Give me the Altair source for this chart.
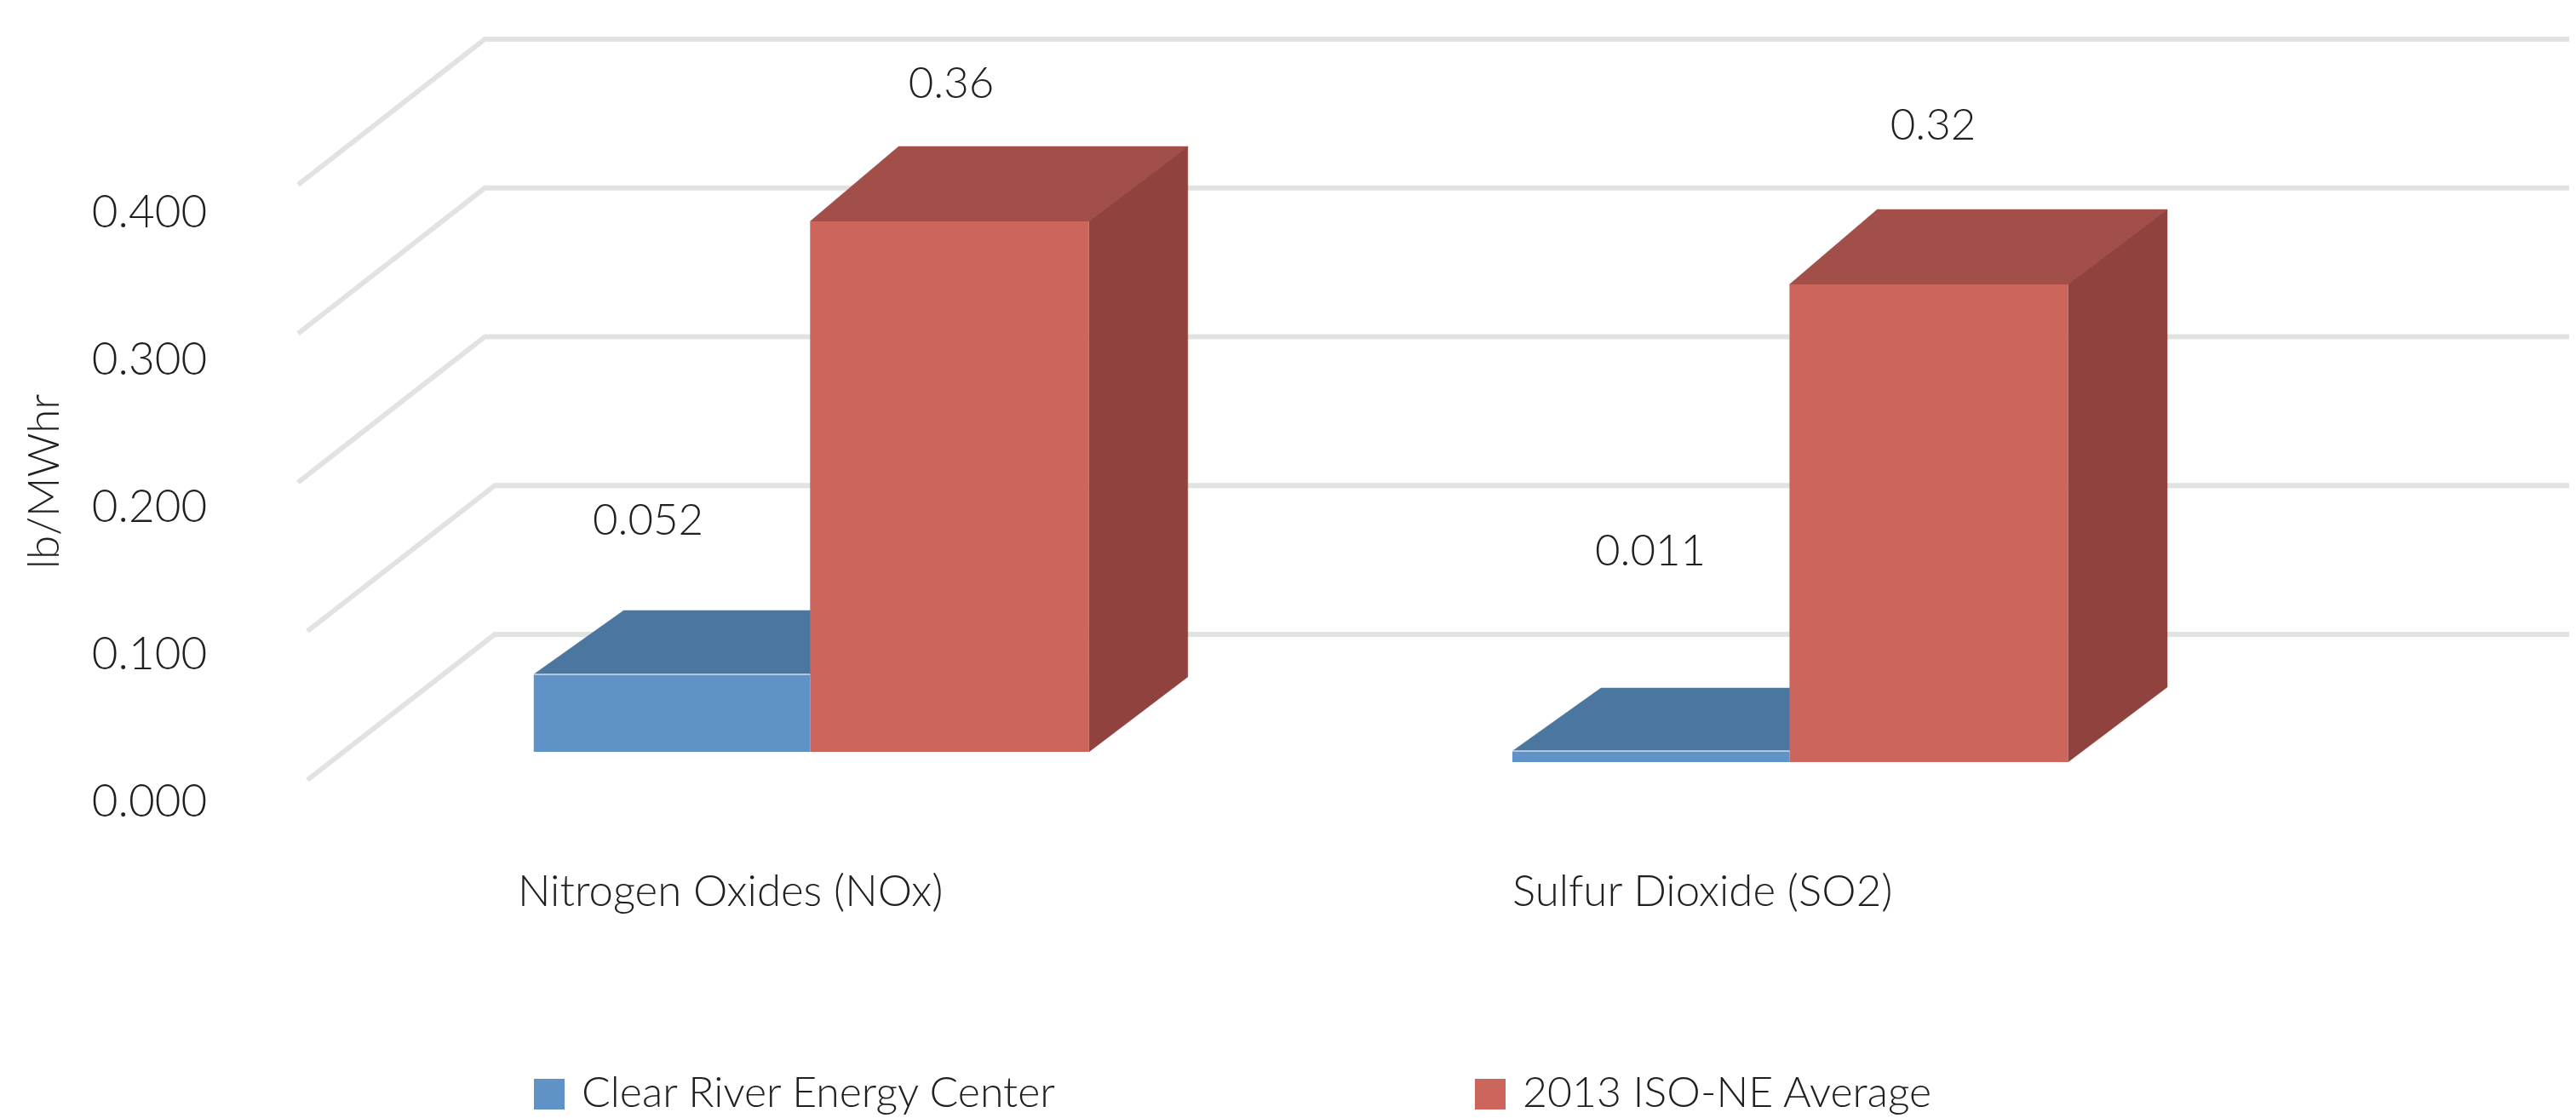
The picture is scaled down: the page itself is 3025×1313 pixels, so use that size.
import altair as alt
import pandas as pd

# ---- data ----
categories = ["Nitrogen Oxides (NOx)", "Sulfur Dioxide (SO2)"]
series_names = ["Clear River Energy Center", "2013 ISO-NE Average"]
clear_river = [0.0521, 0.0074]
iso_ne = [0.3565, 0.321]
clear_river_labels = ["0.052", "0.011"]
iso_ne_labels = ["0.36", "0.32"]
y_ticks = [0.0, 0.1, 0.2, 0.3, 0.4]

# ---- pseudo-3D geometry (x in chart units, y in value units) ----
PX = 1747.5  # chart units per 1.0 of value
group_base = [33 / PX, 21 / PX]
bar_x = {
    0: [(626.8, 951.3), (1776.0, 2101.4)],
    1: [(951.3, 1278.8), (2101.4, 2428.4)],
}
bar_dx_left = {0: [105.6, 104.0], 1: [104.0, 103.0]}
bar_dx_right = {0: [105.6, 104.0], 1: [116.0, 116.6]}
bar_dy = {0: [75 / PX, 74 / PX], 1: [88 / PX, 88 / PX]}
label_x = {0: [761, 1938], 1: [1117, 2270]}
label_lift = {0: [179 / PX, 233 / PX], 1: [160 / PX, 185 / PX]}
cat_x = [608, 1776]
cat_y = -133 / PX
grid_front_x = [361, 361, 350, 350, 350]
grid_back_x = [581, 581, 569.4, 569.4, 569.4]
grid_lift = 171 / PX
X_MIN, X_MAX = 350, 3017
Y_TOP = (916 - 8) / PX
Y_BOTTOM = (916 - 1313) / PX

BLUE, RED = "#5F93C8", "#CC655C"
BLUE_TOP, RED_TOP = "#4B76A0", "#A24E49"
RED_SIDE = "#8F423E"
GRID = "#E1E3E1"
INK = "#231F20"
FONT = "Lato"
SIZE = 51

values = [clear_river, iso_ne]
labels = [clear_river_labels, iso_ne_labels]

grid_rows, blue_top_rows, red_top_rows, side_rows = [], [], [], []
front_rows, label_rows, edge_rows = [], [], []
for i, t in enumerate(y_ticks):
    grid_rows += [
        {"tick": i, "n": 0, "x": grid_front_x[i], "y": t},
        {"tick": i, "n": 1, "x": grid_back_x[i], "y": t + grid_lift},
        {"tick": i, "n": 2, "x": X_MAX, "y": t + grid_lift},
    ]

for s in (0, 1):
    for g in (0, 1):
        x0, x1 = bar_x[s][g]
        dxl, dxr, dy = bar_dx_left[s][g], bar_dx_right[s][g], bar_dy[s][g]
        b = group_base[g]
        t = b + values[s][g]
        target = blue_top_rows if s == 0 else red_top_rows
        for n, (xx, yy) in enumerate(
            [(x0, t), (x0 + dxl, t + dy), (x1 + dxr, t + dy), (x1, t)]
        ):
            target.append({"face": g, "n": n, "x": xx, "y": yy})
        if s == 1:
            for n, (xx, yy) in enumerate(
                [(x1, t), (x1 + dxr, t + dy), (x1 + dxr, b + dy), (x1, b)]
            ):
                side_rows.append({"face": g, "n": n, "x": xx, "y": yy})
        front_rows.append(
            {"series": series_names[s], "x": x0, "x2": x1, "y": t, "y2": b}
        )
        if s == 0:
            edge_rows.append({"x": x0, "x2": x1, "y": t})
        label_rows.append(
            {"text": labels[s][g], "x": label_x[s][g], "y": t + label_lift[s][g]}
        )

cat_rows = [{"text": c, "x": cat_x[i], "y": cat_y} for i, c in enumerate(categories)]

x_scale = alt.Scale(domain=[X_MIN, X_MAX], nice=False, zero=False)
y_scale = alt.Scale(domain=[Y_BOTTOM, Y_TOP], nice=False, zero=False)
X = alt.X("x:Q", scale=x_scale, axis=None)
Y = alt.Y(
    "y:Q",
    scale=y_scale,
    stack=None,
    axis=alt.Axis(
        values=y_ticks,
        format=".3f",
        title="lb/MWhr",
        orient="left",
        grid=False,
        domain=False,
        ticks=False,
        labelFont=FONT,
        labelFontWeight=300,
        labelFontSize=53,
        labelColor=INK,
        labelAlign="center",
        labelBaseline="middle",
        labelOffset={
            "condition": [
                {"test": "datum.value > 0.35", "value": 33},
                {"test": "datum.value > 0.25", "value": 31.5},
                {"test": "datum.value > 0.15", "value": 30},
                {"test": "datum.value > 0.05", "value": 28},
            ],
            "value": 26,
        },
        labelPadding=175,
        labelOverlap=False,
        titleFont=FONT,
        titleFontWeight=300,
        titleFontSize=SIZE,
        titleColor=INK,
        titleAngle=270,
        titleBaseline="middle",
        titleX=-297,
        titleY=557,
    ),
)


def face_layer(rows, colour):
    # a closed, filled path through the four corners of one face
    return (
        alt.Chart(pd.DataFrame(rows))
        .mark_line(fill=colour, stroke=colour, strokeWidth=0.5, strokeJoin="miter", opacity=1)
        .encode(x=X, y=Y, detail="face:N", order="n:Q")
    )


grid = (
    alt.Chart(pd.DataFrame(grid_rows))
    .mark_line(color=GRID, strokeWidth=6, strokeJoin="miter", strokeCap="butt")
    .encode(x=X, y=Y, detail="tick:N", order="n:Q")
)
fronts = (
    alt.Chart(pd.DataFrame(front_rows))
    .mark_rect(opacity=1)
    .encode(
        x=X,
        x2="x2:Q",
        y=Y,
        y2="y2:Q",
        color=alt.Color(
            "series:N",
            scale=alt.Scale(domain=series_names, range=[BLUE, RED]),
            legend=alt.Legend(
                orient="none",
                legendX=270,
                legendY=1252,
                direction="horizontal",
                columns=2,
                columnPadding=482,
                title=None,
                symbolType="square",
                symbolSize=1296,
                symbolStrokeWidth=0,
                symbolOpacity=1,
                labelFont=FONT,
                labelFontWeight=300,
                labelFontSize=50,
                labelColor=INK,
                labelOffset=13,
                labelLimit=0,
            ),
        ),
    )
)
edges = (
    alt.Chart(pd.DataFrame(edge_rows))
    .mark_rule(color="#CFDCEB", strokeWidth=1.5)
    .encode(x=X, x2="x2:Q", y=Y)
)
value_labels = (
    alt.Chart(pd.DataFrame(label_rows))
    .mark_text(font=FONT, fontWeight=300, fontSize=SIZE, color=INK, align="center", baseline="middle")
    .encode(x=X, y=Y, text="text:N")
)
cat_labels = (
    alt.Chart(pd.DataFrame(cat_rows))
    .mark_text(font=FONT, fontWeight=300, fontSize=SIZE, color=INK, align="left", baseline="middle")
    .encode(x=X, y=Y, text="text:N")
)

chart = (
    alt.layer(
        grid,
        face_layer(blue_top_rows, BLUE_TOP),
        face_layer(red_top_rows, RED_TOP),
        face_layer(side_rows, RED_SIDE),
        fronts,
        edges,
        value_labels,
        cat_labels,
    )
    .properties(
        width=X_MAX - X_MIN,
        height=1305,
        autosize=alt.AutoSizeParams(type="none"),
        padding={"left": 342, "top": 0, "right": 0, "bottom": 0},
        background="white",
    )
    .configure_view(stroke=None)
)
chart.save("out.html", embed_options={"renderer": "svg", "actions": False})
